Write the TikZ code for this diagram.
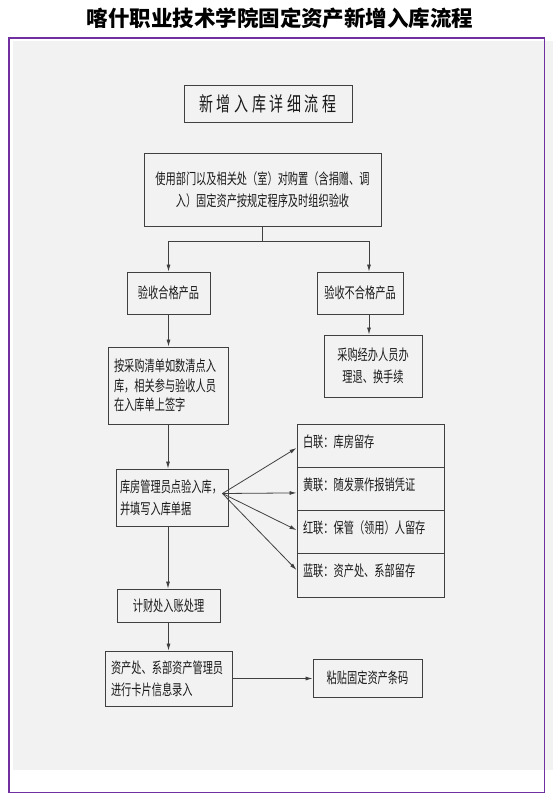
\documentclass[tikz,border=0pt]{standalone}
\usepackage{fontspec}
\usetikzlibrary{arrows.meta}
\newfontfamily\cjk{Noto Sans CJK SC}
\newfontfamily\cjknarrow[FakeStretch=0.68]{Noto Sans CJK SC}
\newfontfamily\cjkhead[FakeStretch=0.7,LetterSpace=18]{Noto Sans CJK SC}
\definecolor{framepurple}{RGB}{112,48,160}
\definecolor{panelgray}{RGB}{242,242,242}
\begin{document}
\begin{tikzpicture}[x=1pt, y=-1pt, >={Latex[length=7pt,width=4pt]},
  box/.style={draw=black!75, line width=0.9pt, text=black!90, inner sep=6pt,
    align=center, font=\cjknarrow\fontsize{15}{22}\selectfont},
  leftbox/.style={box, align=left},
  copybox/.style={box, align=left, text width=135pt, minimum height=43.25pt,
    text height=12.5pt, text depth=9.5pt},
  link/.style={->, draw=black!75, line width=0.8pt}]
\useasboundingbox (0,0) rectangle (553,796);
% Fondo y marco
\fill[panelgray] (13,40.5) rectangle (553,769.5);
\draw[framepurple, line width=1.5pt] (8.8,38) rectangle (544.6,792.5);
% Titulo
\node[font=\cjk\bfseries\fontsize{21.5}{24}\selectfont] (title) at (280,18.5)
  {喀什职业技术学院固定资产新增入库流程};
% Cajas
\node[box, font=\cjkhead\fontsize{20}{22}\selectfont, minimum width=168pt,
  minimum height=37pt] (head) at (268,103.5) {新增入库详细流程};
\node[box, minimum width=237pt, minimum height=73pt] (use) at (262.5,189.5)
  {使用部门以及相关处（室）对购置（含捐赠、调\\入）固定资产按规定程序及时组织验收};
\node[box, minimum width=83pt, minimum height=42pt] (ok) at (168.5,293) {验收合格产品};
\node[box, minimum width=86pt, minimum height=42pt] (nok) at (360,293) {验收不合格产品};
\node[box, minimum width=98pt, minimum height=62pt] (back) at (373,366)
  {采购经办人员办\\理退、换手续};
\node[leftbox, font=\cjknarrow\fontsize{15}{19.5}\selectfont, text width=108pt,
  minimum height=77pt] (count) at (168,385.5)
  {按采购清单如数清点入\\库，相关参与验收人员\\在入库单上签字};
\node[leftbox, inner xsep=4pt, text width=104pt, minimum height=57pt] (store) at (172,497.5)
  {库房管理员点验入库，\\并填写入库单据};
\node[box, minimum width=103pt, minimum height=33pt] (finance) at (168.5,605.5) {计财处入账处理};
\node[leftbox, text width=115pt, minimum height=55pt] (card) at (168.5,678.5)
  {资产处、系部资产管理员\\进行卡片信息录入};
\node[box, minimum width=109pt, minimum height=38pt] (label) at (367.5,678) {粘贴固定资产条码};
% Cuatro copias
\node[copybox] (pwhite) at (370.5,445.6) {白联：库房留存};
\node[copybox] (pyellow) at (370.5,488.9) {黄联：随发票作报销凭证};
\node[copybox] (pred) at (370.5,532.1) {红联：保管（领用）人留存};
\node[copybox] (pblue) at (370.5,575.4) {蓝联：资产处、系部留存};
% Flechas
\coordinate (fork) at (262,241);
\draw[link, -] (use.south) -- (use.south |- fork);
\draw[link] (fork) -| (ok.north);
\draw[link] (fork) -| ([xshift=9pt]nok.north);
\draw[link] ([xshift=9pt]nok.south) -- ([xshift=9pt]nok.south |- back.north);
\draw[link] (ok.south) -- (ok.south |- count.north);
\draw[link] (count.south) -- (count.south |- store.north);
\draw[link] (count.south |- store.south) -- (count.south |- finance.north);
\draw[link] (finance.south) -- (finance.south |- card.north);
\draw[link] (card.east) -- (card.east -| label.west);
\coordinate (fan) at ([xshift=-6pt,yshift=4pt]store.east);
\foreach \p/\d in {pwhite/-2.4, pyellow/-4, pred/2, pblue/5.4}
  \draw[link] (fan) -- ([yshift=\d pt]\p.west);
\end{tikzpicture}
\end{document}
